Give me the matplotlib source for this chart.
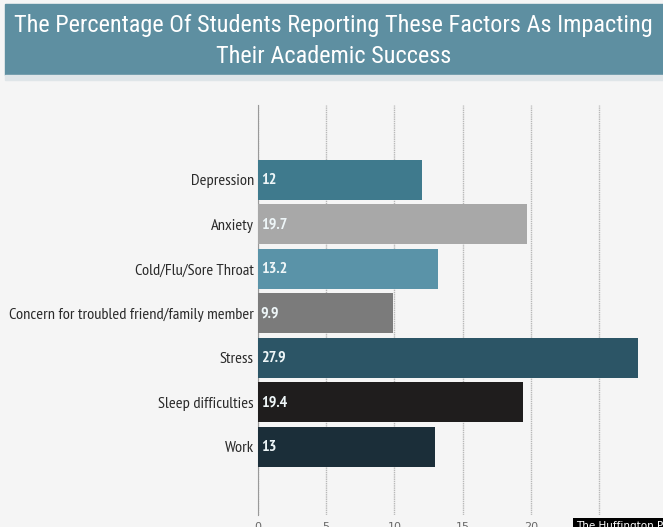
import numpy as np
import matplotlib.pyplot as plt
from matplotlib.patches import Rectangle

# данные
factors = ['Depression', 'Anxiety', 'Cold/Flu/Sore Throat',
           'Concern for troubled friend/family member', 'Stress',
           'Sleep difficulties', 'Work']
values = [12, 19.7, 13.2, 9.9, 27.9, 19.4, 13]
value_labels = ['12', '19.7', '13.2', '9.9', '27.9', '19.4', '13']
bar_colors = ['#3f7a8d', '#a8a8a8', '#5a93a8', '#7b7b7b', '#2c5566', '#1f1d1d', '#1b2e39']
ticks = [0, 5, 10, 15, 20, 25]

title = 'The Percentage Of Students Reporting These Factors As Impacting\nTheir Academic Success'

narrow = ['PT Sans Narrow', 'DejaVu Sans']
title_font = ['Roboto Condensed', 'DejaVu Sans']

fig = plt.figure(figsize=(6.63, 5.27), dpi=100, facecolor='#f5f5f5')

# шапка
fig.patches.append(Rectangle((5 / 663, 1 - 75 / 527), 658 / 663, 71 / 527,
                             transform=fig.transFigure, color='#5e8fa1', zorder=0))
fig.patches.append(Rectangle((5 / 663, 1 - 80 / 527), 658 / 663, 5 / 527,
                             transform=fig.transFigure, color='#dfe5e8', zorder=0))
fig.text(0.503, 1 - 41 / 527, title, ha='center', va='center', color='white',
         fontsize=17.5, family=title_font, linespacing=1.45)

ax = fig.add_axes([258 / 663, 12 / 527, 405 / 663, 410 / 527])
ax.set_facecolor('#f5f5f5')

y = np.arange(len(factors))
ax.barh(y, values, height=0.9, color=bar_colors, zorder=3)

for yi, lab in zip(y, value_labels):
    ax.text(0.2, yi, lab, ha='left', va='center', color='#eef6f8',
            fontsize=11.5, family=narrow, fontweight='bold', zorder=4)

ax.set_yticks(y)
ax.set_yticklabels(factors, family=narrow, fontsize=11.8, color='#2a2a2a')
ax.tick_params(axis='y', length=0, pad=3)
ax.set_xticks(ticks)
ax.set_xticklabels([str(t) for t in ticks], fontsize=8, color='#666666')
ax.tick_params(axis='x', length=0, pad=5)

ax.set_xlim(0, 29.7)
ax.set_ylim(7.53, -1.685)
ax.grid(axis='x', color='#b8b8b8', linestyle=(0, (1, 0.6)), linewidth=1, zorder=1)
for s in ['top', 'right', 'bottom']:
    ax.spines[s].set_visible(False)
ax.spines['left'].set_color('#999999')
ax.spines['left'].set_linewidth(0.8)

fig.text(576 / 663, -4 / 527, 'The Huffington Post', color='white', fontsize=7.5,
         ha='left', va='bottom', zorder=5,
         bbox=dict(facecolor='black', edgecolor='none', pad=2))

plt.savefig('out.png', dpi=100, facecolor=fig.get_facecolor())
